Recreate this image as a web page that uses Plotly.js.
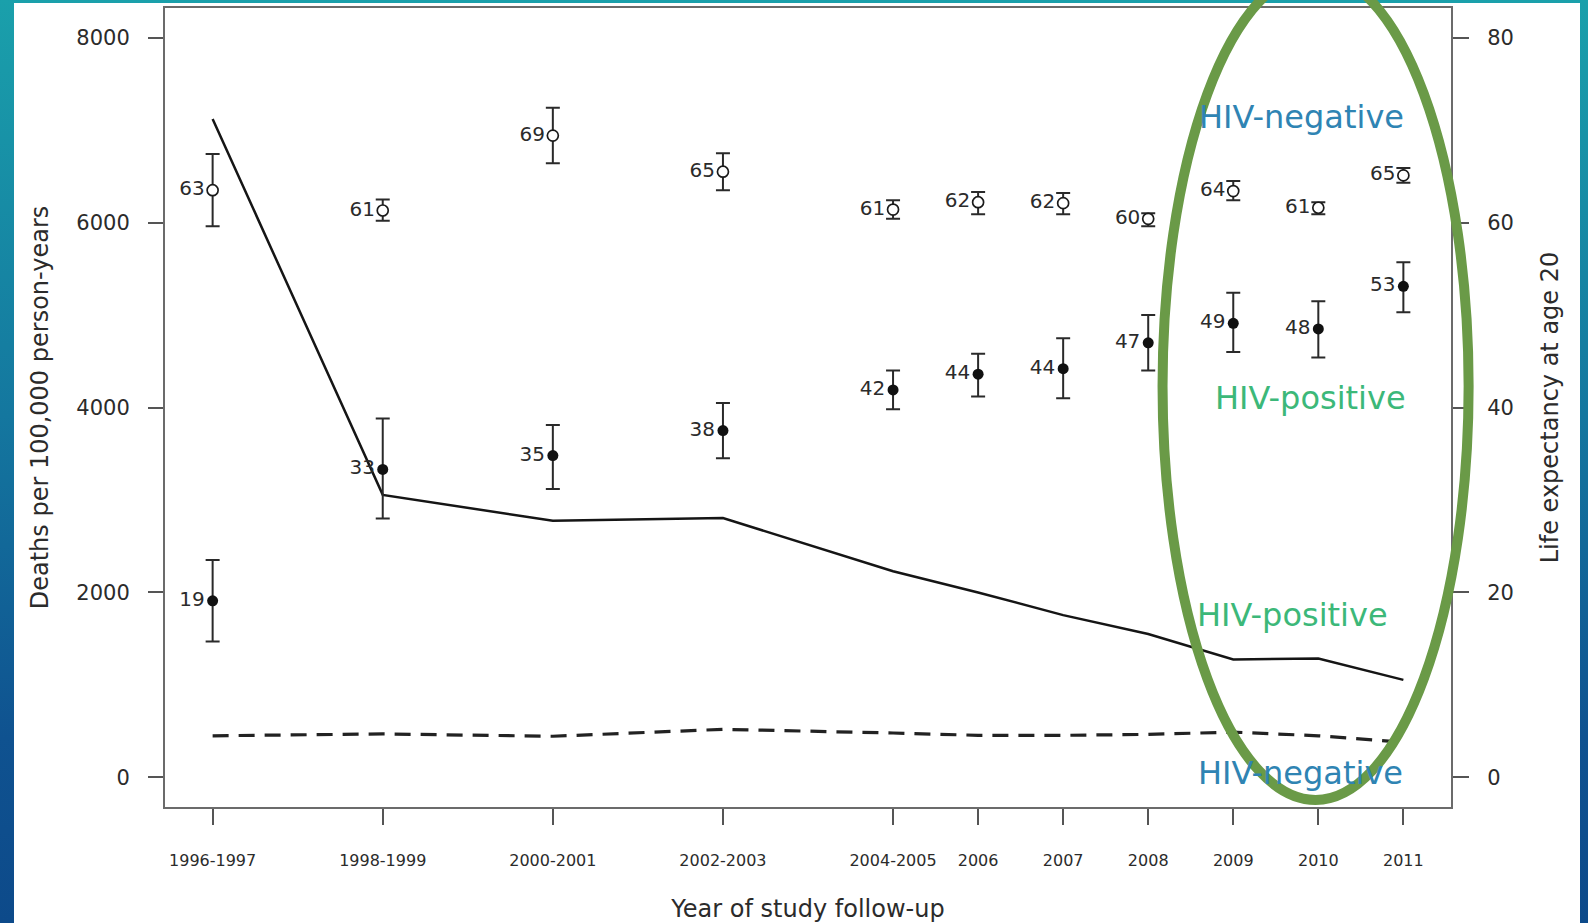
<!DOCTYPE html>
<html>
<head>
<meta charset="utf-8">
<script src="https://cdn.plot.ly/plotly-3.0.1.min.js"></script>
<style>
  html, body { margin: 0; padding: 0; width: 1588px; height: 923px; overflow: hidden; }
  body { background: linear-gradient(to bottom, #1aa0ab 0%, #14779f 45%, #0f5290 80%, #0d4a8a 100%); position: relative; }
  #panel { position: absolute; left: 14px; top: 3px; width: 1566px; height: 920px; background: #ffffff; }
  #chart { position: absolute; left: 0; top: 0; width: 1588px; height: 923px; }
</style>
</head>
<body>
<div id="panel"></div>
<div id="chart"></div>
<script>
// ---- data ----
const periods = ["1996-1997", "1998-1999", "2000-2001", "2002-2003", "2004-2005", "2006", "2007", "2008", "2009", "2010", "2011"];
// position of each period on the time axis (two-year periods span two units)
const periodPos = [0, 2, 4, 6, 8, 9, 10, 11, 12, 13, 14];

// Deaths per 100,000 person-years (left axis)
const deathsHivPos = [7120, 3055, 2775, 2805, 2230, 2000, 1755, 1550, 1275, 1285, 1055];
const deathsHivNeg = [450, 470, 445, 520, 480, 455, 455, 465, 490, 450, 380];

// Life expectancy at age 20 (right axis), HIV-negative (open circles)
const lifeNeg      = [63.5, 61.3, 69.4, 65.5, 61.4, 62.2, 62.1, 60.4, 63.4, 61.6, 65.1];
const lifeNegLow   = [59.6, 60.2, 66.4, 63.5, 60.4, 60.9, 60.9, 59.6, 62.4, 60.9, 64.3];
const lifeNegHigh  = [67.4, 62.5, 72.4, 67.5, 62.4, 63.3, 63.2, 61.0, 64.5, 62.2, 65.9];
const lifeNegText  = ["63", "61", "69", "65", "61", "62", "62", "60", "64", "61", "65"];

// Life expectancy at age 20 (right axis), HIV-positive (filled circles)
const lifePos      = [19.1, 33.3, 34.8, 37.5, 41.9, 43.6, 44.2, 47.0, 49.1, 48.5, 53.1];
const lifePosLow   = [14.7, 28.0, 31.2, 34.5, 39.8, 41.2, 41.0, 44.0, 46.0, 45.4, 50.3];
const lifePosHigh  = [23.5, 38.8, 38.1, 40.5, 44.0, 45.8, 47.5, 50.0, 52.4, 51.5, 55.7];
const lifePosText  = ["19", "33", "35", "38", "42", "44", "44", "47", "49", "48", "53"];

const leftTicks  = [0, 2000, 4000, 6000, 8000];
const rightTicks = [0, 20, 40, 60, 80];

// ---- chart ----
const FONT = "DejaVu Sans, Liberation Sans, Arial, sans-serif";
const INK = "#2b2b2b";

function plusErr(v, hi) { return v.map((d, i) => hi[i] - d); }
function minusErr(v, lo) { return v.map((d, i) => d - lo[i]); }

const traces = [
  {
    x: periodPos, y: deathsHivPos, type: "scatter", mode: "lines", yaxis: "y",
    line: { color: "#151515", width: 2.5 }, hoverinfo: "skip"
  },
  {
    x: periodPos, y: deathsHivNeg, type: "scatter", mode: "lines", yaxis: "y",
    line: { color: "#222222", width: 3.2, dash: "16px,10px" }, hoverinfo: "skip"
  },
  {
    x: periodPos, y: lifeNeg, type: "scatter", mode: "markers+text", yaxis: "y2",
    text: lifeNegText, textposition: "middle left",
    textfont: { family: FONT, size: 20, color: INK },
    marker: { symbol: "circle", size: 11, color: "#ffffff", line: { color: "#1a1a1a", width: 1.7 } },
    error_y: { type: "data", symmetric: false, array: plusErr(lifeNeg, lifeNegHigh),
               arrayminus: minusErr(lifeNeg, lifeNegLow), color: "#2a2a2a", thickness: 2, width: 7 }
  },
  {
    x: periodPos, y: lifePos, type: "scatter", mode: "markers+text", yaxis: "y2",
    text: lifePosText, textposition: "middle left",
    textfont: { family: FONT, size: 20, color: INK },
    marker: { symbol: "circle", size: 11, color: "#111111" },
    error_y: { type: "data", symmetric: false, array: plusErr(lifePos, lifePosHigh),
               arrayminus: minusErr(lifePos, lifePosLow), color: "#2a2a2a", thickness: 2, width: 7 }
  }
];

const BLUE = "#2f84b3";
const GREEN = "#3cb879";
const labelFont = (c) => ({ family: FONT, size: 32, color: c });

const layout = {
  width: 1588, height: 923,
  margin: { l: 165, r: 137, t: 8, b: 116, pad: 0 },
  paper_bgcolor: "rgba(0,0,0,0)",
  plot_bgcolor: "#ffffff",
  showlegend: false,
  xaxis: {
    range: [-0.56, 14.56], tickmode: "array", tickvals: periodPos, ticktext: periods,
    ticks: "outside", ticklen: 16, tickwidth: 2, tickcolor: "#555",
    showline: true, mirror: true, linecolor: "#6b6b6b", linewidth: 2,
    showgrid: false, zeroline: false,
    tickfont: { family: FONT, size: 16, color: INK }, ticklabelstandoff: 22,
    title: { text: "Year of study follow-up", font: { family: FONT, size: 24, color: INK }, standoff: 32 }
  },
  yaxis: {
    range: [-320, 8320], tickmode: "array", tickvals: leftTicks,
    ticks: "outside", ticklen: 15, tickwidth: 2, tickcolor: "#555",
    showline: true, mirror: true, linecolor: "#6b6b6b", linewidth: 2,
    showgrid: false, zeroline: false,
    tickfont: { family: FONT, size: 21, color: INK }, ticklabelstandoff: 14,
    title: { text: "Deaths per 100,000 person-years", font: { family: FONT, size: 24, color: INK }, standoff: 21 }
  },
  yaxis2: {
    overlaying: "y", side: "right", anchor: "x",
    range: [-3.2, 83.2], tickmode: "array", tickvals: rightTicks,
    ticks: "outside", ticklen: 16, tickwidth: 2, tickcolor: "#555",
    showline: true, linecolor: "#6b6b6b", linewidth: 2,
    showgrid: false, zeroline: false,
    tickfont: { family: FONT, size: 21, color: INK }, ticklabelstandoff: 14,
    title: { text: "Life expectancy at age 20", font: { family: FONT, size: 24, color: INK }, standoff: 28 }
  },
  annotations: [
    { text: "HIV-negative", x: 12.8, y: 71.4, xref: "x", yref: "y2", showarrow: false, xanchor: "center", yanchor: "middle", font: labelFont(BLUE) },
    { text: "HIV-positive", x: 12.91, y: 41.0, xref: "x", yref: "y2", showarrow: false, xanchor: "center", yanchor: "middle", font: labelFont(GREEN) },
    { text: "HIV-positive", x: 12.7, y: 17.6, xref: "x", yref: "y2", showarrow: false, xanchor: "center", yanchor: "middle", font: labelFont(GREEN) },
    { text: "HIV-negative", x: 12.79, y: 0.5, xref: "x", yref: "y2", showarrow: false, xanchor: "center", yanchor: "middle", font: labelFont(BLUE) }
  ],
  shapes: [
    { type: "circle", xref: "paper", yref: "paper", x0: 0.7757, x1: 1.0137, y0: 0.0088, y1: 1.0443,
      line: { color: "#6a9a47", width: 10 }, fillcolor: "rgba(0,0,0,0)", layer: "above" }
  ]
};

Plotly.newPlot("chart", traces, layout, { displayModeBar: false, staticPlot: true });
</script>
</body>
</html>
